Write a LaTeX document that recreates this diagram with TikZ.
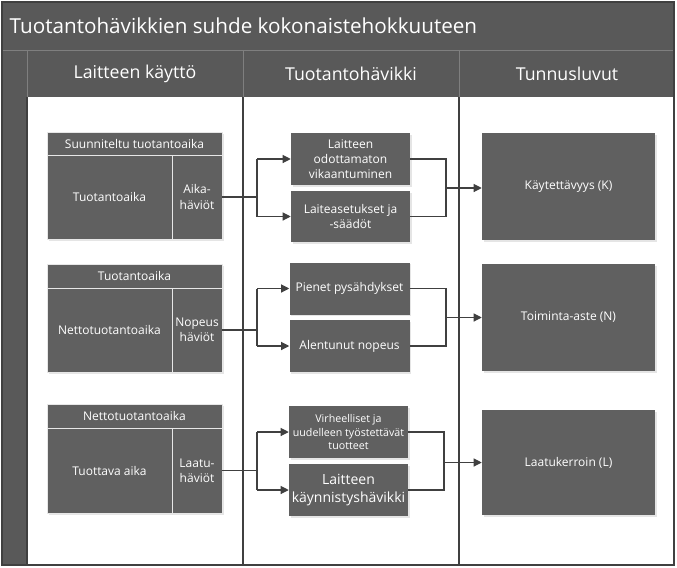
\documentclass[tikz,border=0pt]{standalone}
\usepackage{fontspec}
\setmainfont{Open Sans}
\usetikzlibrary{arrows.meta,shadows}
\definecolor{bar}{HTML}{595959}
\definecolor{boxc}{HTML}{606060}
\definecolor{linec}{HTML}{404040}
\definecolor{sepc}{HTML}{7F7F7F}
\tikzset{
  sz/.style 2 args={minimum width=#1*0.75pt, minimum height=#2*0.75pt},
  box/.style={fill=boxc, draw=none, text=white, align=center, inner sep=1pt,
    font=\fontsize{9}{11.5}\selectfont,
    drop shadow={opacity=0.25, shadow xshift=1.2pt, shadow yshift=-1.2pt, fill=black!40}},
  part/.style={fill=boxc, draw=white!85!boxc, line width=0.5pt, text=white, align=center, inner sep=1pt,
    font=\fontsize{9}{11.5}\selectfont},
  hdr/.style={text=white, font=\fontsize{13.3}{16}\selectfont},
  conn/.style={draw=linec, line width=0.8pt},
  arr/.style={conn, -{Triangle[length=6pt,width=6pt]}}
}
\begin{document}
\begin{tikzpicture}[x=0.75pt,y=-0.75pt]
\useasboundingbox (0,0) rectangle (677,567);
\fill[white] (0,0) rectangle (677,567);
% frame and bars
\fill[bar] (2,2) rectangle (674,97);
\fill[bar] (2,50) rectangle (27,565);
\draw[sepc, line width=0.6pt] (2,50) -- (674,50);
\draw[sepc, line width=0.6pt] (27,50) -- (27,97) (243,50) -- (243,97) (459,50) -- (459,97);
\draw[linec, line width=0.8pt] (27,97) -- (27,565) (243,97) -- (243,565) (459,97) -- (459,565);
\draw[linec, line width=0.8pt] (2,2) rectangle (674,565);
\node[text=white, anchor=west, font=\fontsize{15.5}{18}\selectfont] (title) at (5,26) {Tuotantohävikkien suhde kokonaistehokkuuteen};
\node[hdr] (h1) at (135,74) {Laitteen käyttö};
\node[hdr] (h2) at (351,74) {Tuotantohävikki};
\node[hdr] (h3) at (567,74) {Tunnusluvut};

% row 1
\fill[black!40, opacity=0.25] (48.5,133.5) rectangle (223.5,240.5);
\node[part, sz={175}{23}] (a1) at (134.5,143.5) {Suunniteltu tuotantoaika};
\node[part, sz={125}{84}] (b1) at (109.5,197) {Tuotantoaika};
\node[part, sz={50}{84}] (c1) at (197,197) {Aika-\\häviöt};
\node[box, sz={119}{52}] (m1a) at (350.5,159) {Laitteen\\odottamaton\\vikaantuminen};
\node[box, sz={119}{51}] (m1b) at (350.5,216.5) {Laiteasetukset ja\\-säädöt};
\node[box, sz={173}{107}] (r1) at (568.5,186.5) {Käytettävyys (K)};

% row 2
\fill[black!40, opacity=0.25] (48.5,265.5) rectangle (223.5,373.5);
\node[part, sz={175}{24}] (a2) at (134.5,276) {Tuotantoaika};
\node[part, sz={125}{84}] (b2) at (109.5,330) {Nettotuotantoaika};
\node[part, sz={50}{84}] (c2) at (197,330) {Nopeus\\häviöt};
\node[box, sz={120}{52}] (m2a) at (349.5,288.5) {Pienet pysähdykset};
\node[box, sz={120}{52}] (m2b) at (349.5,346) {Alentunut nopeus};
\node[box, sz={173}{107}] (r2) at (568.5,317.5) {Toiminta-aste (N)};

% row 3
\fill[black!40, opacity=0.25] (48.5,405.5) rectangle (223.5,514.5);
\node[part, sz={175}{24}] (a3) at (134.5,416) {Nettotuotantoaika};
\node[part, sz={125}{85}] (b3) at (109.5,470.5) {Tuottava aika};
\node[part, sz={50}{85}] (c3) at (197,470.5) {Laatu-\\häviöt};
\node[box, sz={119}{52}, font=\fontsize{8}{10}\selectfont] (m3a) at (348.5,432) {Virheelliset ja\\uudelleen työstettävät\\tuotteet};
\node[box, sz={119}{52}, font=\fontsize{10.5}{13}\selectfont] (m3b) at (348.5,490) {Laitteen\\käynnistyshävikki};
\node[box, sz={173}{105}] (r3) at (568.5,462.5) {Laatukerroin (L)};

% connectors
\coordinate (j1) at (257,197);
\coordinate (j2) at (257,330);
\coordinate (j3) at (257,460.5);
\coordinate (k1) at (446,188);
\coordinate (k2) at (446,317.5);
\coordinate (k3) at (444,462.5);
\foreach \i in {1,2,3}{
  \draw[conn] (c\i.east) -- (c\i.east -| j\i);
  \draw[arr] (j\i |- m\i a.west) -- (m\i a.west);
  \draw[arr] (j\i |- m\i b.west) -- (m\i b.west);
  \draw[conn] (j\i |- m\i a.west) -- (j\i |- m\i b.west);
  \draw[conn] (m\i a.east) -| (k\i |- m\i b.east) -- (m\i b.east);
  \draw[arr] (k\i) -- (k\i -| r\i.west);
}
\end{tikzpicture}
\end{document}
